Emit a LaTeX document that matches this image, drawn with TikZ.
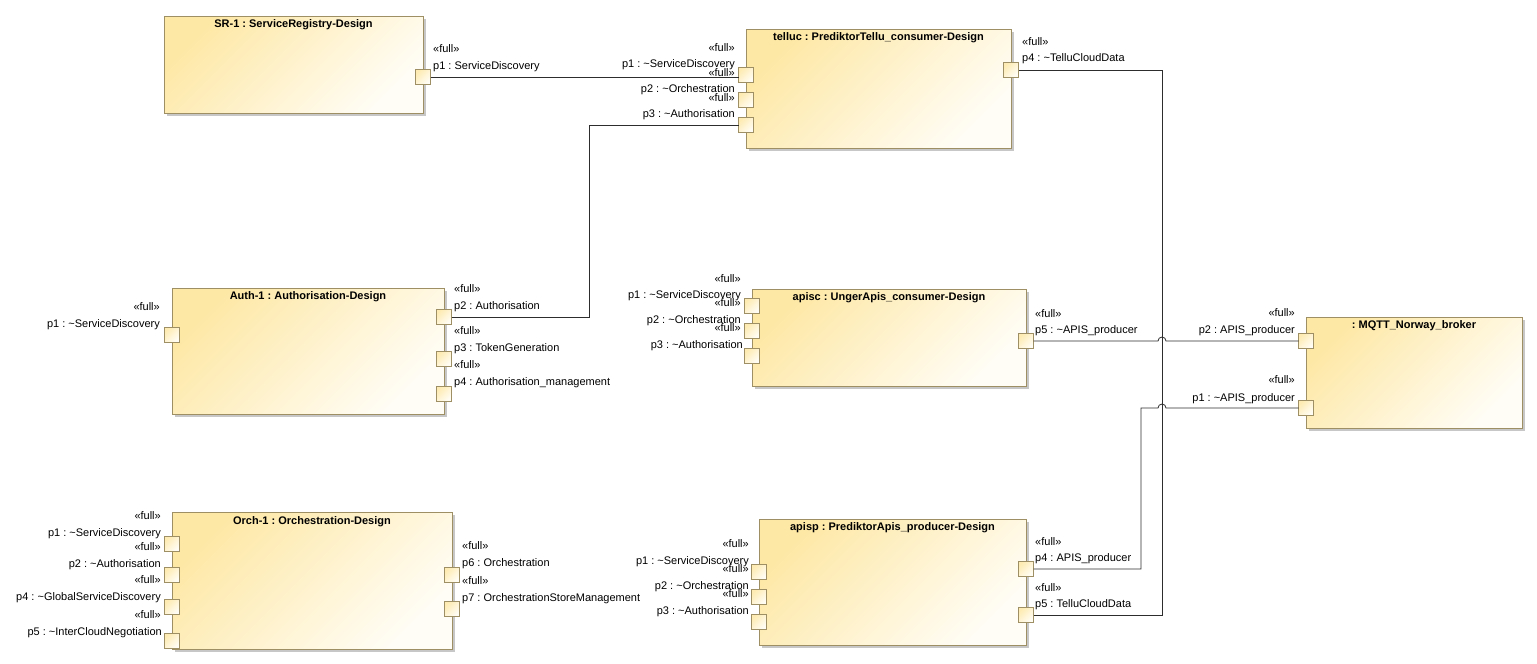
\documentclass[tikz,border=0pt]{standalone}
\usepackage{fontspec}
\setmainfont{Liberation Sans}
\usetikzlibrary{shadows,calc}
\definecolor{partY}{RGB}{254,232,166}
\definecolor{partW}{RGB}{255,253,246}
\definecolor{partB}{RGB}{158,143,100}
\definecolor{lineC}{RGB}{45,45,45}
\newcommand{\fullst}{«full»}
\newcommand{\tld}{\textasciitilde}
\frenchspacing
\tikzset{
  partbox/.style={draw=partB, line width=0.9pt, top color=partY, bottom color=partW, shading angle=45,
    drop shadow={shadow xshift=3pt, shadow yshift=-3pt, fill=black!22, opacity=1},
    anchor=north west, inner sep=0pt, outer sep=0pt},
  portbox/.style={draw=partB, line width=0.8pt, top color=partY!85, bottom color=partW, shading angle=45,
    minimum size=15pt, inner sep=0pt, outer sep=0pt},
  ttl/.style={font=\bfseries\fontsize{11}{13}\selectfont, inner sep=0pt},
  lab/.style={font=\fontsize{11}{13}\selectfont, inner sep=0pt},
  lw/.style={lab, anchor=base west},
  le/.style={lab, anchor=base east},
  conn/.style={draw=lineC, line width=0.8pt}
}
\begin{document}
\begin{tikzpicture}[x=1pt,y=-1pt]
\useasboundingbox (0,0) rectangle (1537,664);
% parts
\node[partbox, minimum width=259pt, minimum height=97pt] (sr) at (164,16) {};
\node[partbox, minimum width=265pt, minimum height=119pt] (tel) at (746,29) {};
\node[partbox, minimum width=272pt, minimum height=126pt] (auth) at (172,288) {};
\node[partbox, minimum width=274pt, minimum height=97pt] (apc) at (752,289) {};
\node[partbox, minimum width=216pt, minimum height=111pt] (mq) at (1306,317) {};
\node[partbox, minimum width=280pt, minimum height=137pt] (orch) at (172,512) {};
\node[partbox, minimum width=267pt, minimum height=126pt] (app) at (759,519) {};
% titles
\node[ttl] (srt) at ($(sr.north)+(0,9)$) {SR-1 : ServiceRegistry-Design};
\node[ttl] (telt) at ($(tel.north)+(0,9)$) {telluc : PrediktorTellu\_consumer-Design};
\node[ttl] (autht) at ($(auth.north)+(0,9)$) {Auth-1 : Authorisation-Design};
\node[ttl] (apct) at ($(apc.north)+(0,8.5)$) {apisc : UngerApis\_consumer-Design};
\node[ttl] (mqt) at ($(mq.north)+(0,8.5)$) {: MQTT\_Norway\_broker};
\node[ttl] (orcht) at ($(orch.north)+(0,10)$) {Orch-1 : Orchestration-Design};
\node[ttl] (appt) at ($(app.north)+(0,9)$) {apisp : PrediktorApis\_producer-Design};
% ports
\node[portbox] (srp1) at (423,77) {};
\node[portbox] (tp1) at (746,75) {};
\node[portbox] (tp2) at (746,100) {};
\node[portbox] (tp3) at (746,125) {};
\node[portbox] (tp4) at (1011,70) {};
\node[portbox] (aup1) at (172,335) {};
\node[portbox] (aup2) at (444,317) {};
\node[portbox] (aup3) at (444,359) {};
\node[portbox] (aup4) at (444,394) {};
\node[portbox] (acp1) at (752,306) {};
\node[portbox] (acp2) at (752,331) {};
\node[portbox] (acp3) at (752,356) {};
\node[portbox] (acp5) at (1026,341) {};
\node[portbox] (mp2) at (1306,341) {};
\node[portbox] (mp1) at (1306,408) {};
\node[portbox] (op1) at (172,544) {};
\node[portbox] (op2) at (172,575) {};
\node[portbox] (op4) at (172,607) {};
\node[portbox] (op5) at (172,641) {};
\node[portbox] (op6) at (452,575) {};
\node[portbox] (op7) at (452,609) {};
\node[portbox] (app1) at (759,572) {};
\node[portbox] (app2) at (759,597) {};
\node[portbox] (app3) at (759,622) {};
\node[portbox] (app4) at (1026,569) {};
\node[portbox] (app5) at (1026,615) {};
% routing helpers
\coordinate (vx) at (1162,0);
\coordinate (bx) at (1141,0);
% connectors
\draw[conn] (srp1.east) -- (srp1.east -| tp1.west);
\draw[conn] (aup2.east) -| ($(tp3.west)+(-149.5,0)$) -- (tp3.west);
\draw[conn] (tp4.east) -| (vx |- app5.east) -- (app5.east);
\draw[conn] (acp5.east) -- ($(vx |- acp5.east)+(-4,0)$) arc[start angle=180, end angle=0, radius=4pt] -- (mp2.west);
\draw[conn] (app4.east) -| (bx |- mp1.west) -- ($(vx |- mp1.west)+(-4,0)$) arc[start angle=180, end angle=0, radius=4pt] -- (mp1.west);
% labels SR
\node[lw] (l1) at (433,52) {\fullst};
\node[lw] (l2) at (433,69) {p1 : ServiceDiscovery};
% telluc
\node[le] (l3) at (735,51) {\fullst};
\node[le] (l4) at (735,67) {p1 : \tld ServiceDiscovery};
\node[le] (l5) at (735,76) {\fullst};
\node[le] (l6) at (735,92) {p2 : \tld Orchestration};
\node[le] (l7) at (735,101) {\fullst};
\node[le] (l8) at (735,117) {p3 : \tld Authorisation};
\node[lw] (l9) at (1022,45) {\fullst};
\node[lw] (l10) at (1022,61) {p4 : \tld TelluCloudData};
% Auth
\node[le] (l11) at (160,310) {\fullst};
\node[le] (l12) at (160,327) {p1 : \tld ServiceDiscovery};
\node[lw] (l13) at (454,292) {\fullst};
\node[lw] (l14) at (454,309) {p2 : Authorisation};
\node[lw] (l15) at (454,334) {\fullst};
\node[lw] (l16) at (454,351) {p3 : TokenGeneration};
\node[lw] (l17) at (454,368) {\fullst};
\node[lw] (l18) at (454,385) {p4 : Authorisation\_management};
% apisc
\node[le] (l19) at (741,282) {\fullst};
\node[le] (l20) at (741,298) {p1 : \tld ServiceDiscovery};
\node[le] (l21) at (741,306) {\fullst};
\node[le] (l22) at (741,323) {p2 : \tld Orchestration};
\node[le] (l23) at (741,331) {\fullst};
\node[le] (l24) at (743,348) {p3 : \tld Authorisation};
\node[lw] (l25) at (1035,317) {\fullst};
\node[lw] (l26) at (1035,333) {p5 : \tld APIS\_producer};
% MQTT
\node[le] (l27) at (1295,316) {\fullst};
\node[le] (l28) at (1295,333) {p2 : APIS\_producer};
\node[le] (l29) at (1295,383) {\fullst};
\node[le] (l30) at (1295,401) {p1 : \tld APIS\_producer};
% Orch
\node[le] (l31) at (161,519) {\fullst};
\node[le] (l32) at (161,536) {p1 : \tld ServiceDiscovery};
\node[le] (l33) at (161,550) {\fullst};
\node[le] (l34) at (161,567) {p2 : \tld Authorisation};
\node[le] (l35) at (161,583) {\fullst};
\node[le] (l36) at (161,600) {p4 : \tld GlobalServiceDiscovery};
\node[le] (l37) at (161,618) {\fullst};
\node[le] (l38) at (162,635) {p5 : \tld InterCloudNegotiation};
\node[lw] (l39) at (462,549) {\fullst};
\node[lw] (l40) at (462,566) {p6 : Orchestration};
\node[lw] (l41) at (462,584) {\fullst};
\node[lw] (l42) at (462,601) {p7 : OrchestrationStoreManagement};
% apisp
\node[le] (l43) at (749,547) {\fullst};
\node[le] (l44) at (749,564) {p1 : \tld ServiceDiscovery};
\node[le] (l45) at (749,572) {\fullst};
\node[le] (l46) at (749,589) {p2 : \tld Orchestration};
\node[le] (l47) at (749,597) {\fullst};
\node[le] (l48) at (749,614) {p3 : \tld Authorisation};
\node[lw] (l49) at (1035,545) {\fullst};
\node[lw] (l50) at (1035,561) {p4 : APIS\_producer};
\node[lw] (l51) at (1035,591) {\fullst};
\node[lw] (l52) at (1035,607) {p5 : TelluCloudData};
\end{tikzpicture}
\end{document}
